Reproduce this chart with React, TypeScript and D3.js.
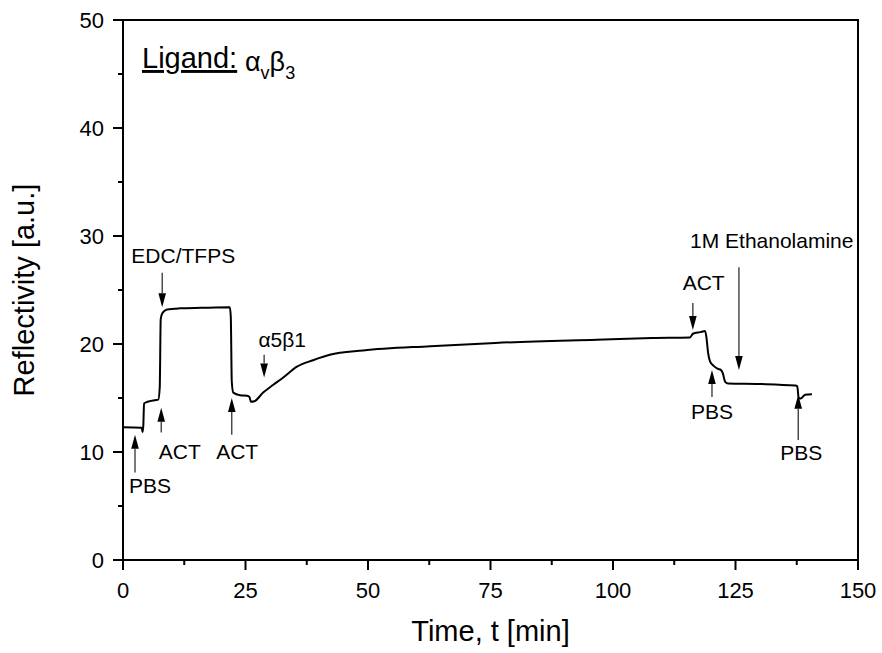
import * as d3 from "d3";

const WIDTH = 882;
const HEIGHT = 653;
const MARGIN = { top: 20, right: 24, bottom: 93, left: 123 };
const FONT = "'Liberation Sans', Arial, Helvetica, sans-serif";

// time [min] and reflectivity [a.u.]
const TIME = [
  0, 3.8, 4.0, 4.15, 4.3, 5.0, 6.5, 7.2, 7.5, 7.7, 8.1, 9.0, 11.6, 16, 21.8, 22.0, 22.2, 22.5,
  23.9, 25.3, 25.8, 26.1, 26.8, 28.6, 30.6, 32.7, 35.5, 38.8, 42.2, 49, 62.7, 76, 96.7, 108,
  115.7, 116.3, 117.8, 118.8, 119.1, 119.4, 119.8, 120.6, 121.4, 122.0, 122.4, 122.9, 123.5,
  130, 137.2, 137.6, 137.9, 138.3, 139.2, 140.6
];
const REFLECTIVITY = [
  12.3, 12.25, 11.85, 12.5, 14.5, 14.65, 14.8, 14.85, 16, 22.3, 22.9, 23.2, 23.3, 23.35, 23.4,
  22.5, 16.5, 15.5, 15.25, 15.2, 15.1, 14.65, 14.7, 15.5, 16.2, 16.9, 17.9, 18.5, 19.0, 19.4,
  19.8, 20.1, 20.4, 20.55, 20.6, 20.95, 21.1, 21.2, 20.5, 19.2, 18.4, 17.95, 17.7, 17.6, 17.3,
  16.5, 16.35, 16.3, 16.15, 16.1, 15.0, 14.95, 15.3, 15.35
];

const X_TICKS = [0, 25, 50, 75, 100, 125, 150];
const Y_TICKS = [0, 10, 20, 30, 40, 50];

// arrow: t position, tail and tip reflectivity; label: centre t, baseline reflectivity
const ARROW_T = [2.45, 7.8, 22.2, 8.0, 28.8, 116.3, 125.7, 120.2, 137.8];
const ARROW_FROM = [8.1, 11.8, 11.6, 26.6, 19.0, 23.8, 27.1, 15.1, 11.1];
const ARROW_TO = [11.6, 14.1, 15.0, 23.4, 16.9, 21.3, 17.6, 17.6, 15.3];
const LABEL_TEXT = ["PBS", "ACT", "ACT", "EDC/TFPS", "α5β1", "ACT", "1M Ethanolamine", "PBS", "PBS"];
const LABEL_T = [5.5, 11.6, 23.3, 12.3, 32.5, 118.5, 132.4, 120.2, 138.4];
const LABEL_R = [6.2, 9.35, 9.35, 27.5, 19.7, 25.0, 28.9, 13.05, 9.26];

export default function App() {
  const innerW = WIDTH - MARGIN.left - MARGIN.right;
  const innerH = HEIGHT - MARGIN.top - MARGIN.bottom;
  const x = d3.scaleLinear().domain([0, 150]).range([MARGIN.left, MARGIN.left + innerW]);
  const y = d3.scaleLinear().domain([0, 50]).range([MARGIN.top + innerH, MARGIN.top]);
  const bottom = y(0);
  const left = x(0);

  const points: [number, number][] = TIME.map((t, i) => [x(t), y(REFLECTIVITY[i])]);
  const line = d3.line().curve(d3.curveMonotoneX)(points) || "";

  const xMinor = d3.range(12.5, 150, 25);
  const yMinor = d3.range(5, 50, 10);

  return (
    <div style={{ position: "absolute", left: 0, top: 0 }}>
      <svg width={WIDTH} height={HEIGHT} style={{ display: "block", background: "#fff" }} fontFamily={FONT}>
        {/* frame */}
        <rect
          x={left}
          y={y(50)}
          width={x(150) - left}
          height={bottom - y(50)}
          fill="none"
          stroke="#000"
          strokeWidth={2}
        />

        {/* x ticks */}
        {X_TICKS.map((t) => (
          <g key={"xt" + t}>
            <line x1={x(t)} x2={x(t)} y1={bottom} y2={bottom + 10} stroke="#000" strokeWidth={2} />
            <text x={x(t)} y={bottom + 38} textAnchor="middle" fontSize={22}>
              {t}
            </text>
          </g>
        ))}
        {xMinor.map((t) => (
          <line key={"xm" + t} x1={x(t)} x2={x(t)} y1={bottom} y2={bottom + 5} stroke="#000" strokeWidth={2} />
        ))}

        {/* y ticks */}
        {Y_TICKS.map((v) => (
          <g key={"yt" + v}>
            <line x1={left - 10} x2={left} y1={y(v)} y2={y(v)} stroke="#000" strokeWidth={2} />
            <text x={left - 19} y={y(v) + 8} textAnchor="end" fontSize={22}>
              {v}
            </text>
          </g>
        ))}
        {yMinor.map((v) => (
          <line key={"ym" + v} x1={left - 5} x2={left} y1={y(v)} y2={y(v)} stroke="#000" strokeWidth={2} />
        ))}

        {/* axis titles */}
        <text x={(left + x(150)) / 2} y={641} textAnchor="middle" fontSize={29}>
          Time, t [min]
        </text>
        <text
          transform={`translate(34, ${(y(0) + y(50)) / 2}) rotate(-90)`}
          textAnchor="middle"
          fontSize={29}
        >
          Reflectivity [a.u.]
        </text>

        {/* ligand label */}
        <text x={142} y={68} fontSize={29} textDecoration="underline">
          Ligand:
        </text>
        <text x={245} y={71} fontSize={27}>
          α<tspan fontSize={18} dy={8}>v</tspan>
          <tspan dy={-8}>β</tspan>
          <tspan fontSize={18} dy={8}>3</tspan>
        </text>

        {/* trace */}
        <path d={line} fill="none" stroke="#000" strokeWidth={2} strokeLinejoin="round" />

        {/* annotation arrows */}
        {ARROW_T.map((t, i) => {
          const ax = x(t);
          const y0 = y(ARROW_FROM[i]);
          const y1 = y(ARROW_TO[i]);
          const dir = y1 > y0 ? 1 : -1;
          const head = 14;
          return (
            <g key={"ar" + i}>
              <line x1={ax} x2={ax} y1={y0} y2={y1 - dir * head} stroke="#222" strokeWidth={1.2} />
              <path
                d={`M${ax},${y1} L${ax - 3.8},${y1 - dir * head} L${ax + 3.8},${y1 - dir * head} Z`}
                fill="#000"
              />
            </g>
          );
        })}
        {LABEL_TEXT.map((s, i) => (
          <text key={"lb" + i} x={x(LABEL_T[i])} y={y(LABEL_R[i])} textAnchor="middle" fontSize={21}>
            {s}
          </text>
        ))}
      </svg>
    </div>
  );
}
